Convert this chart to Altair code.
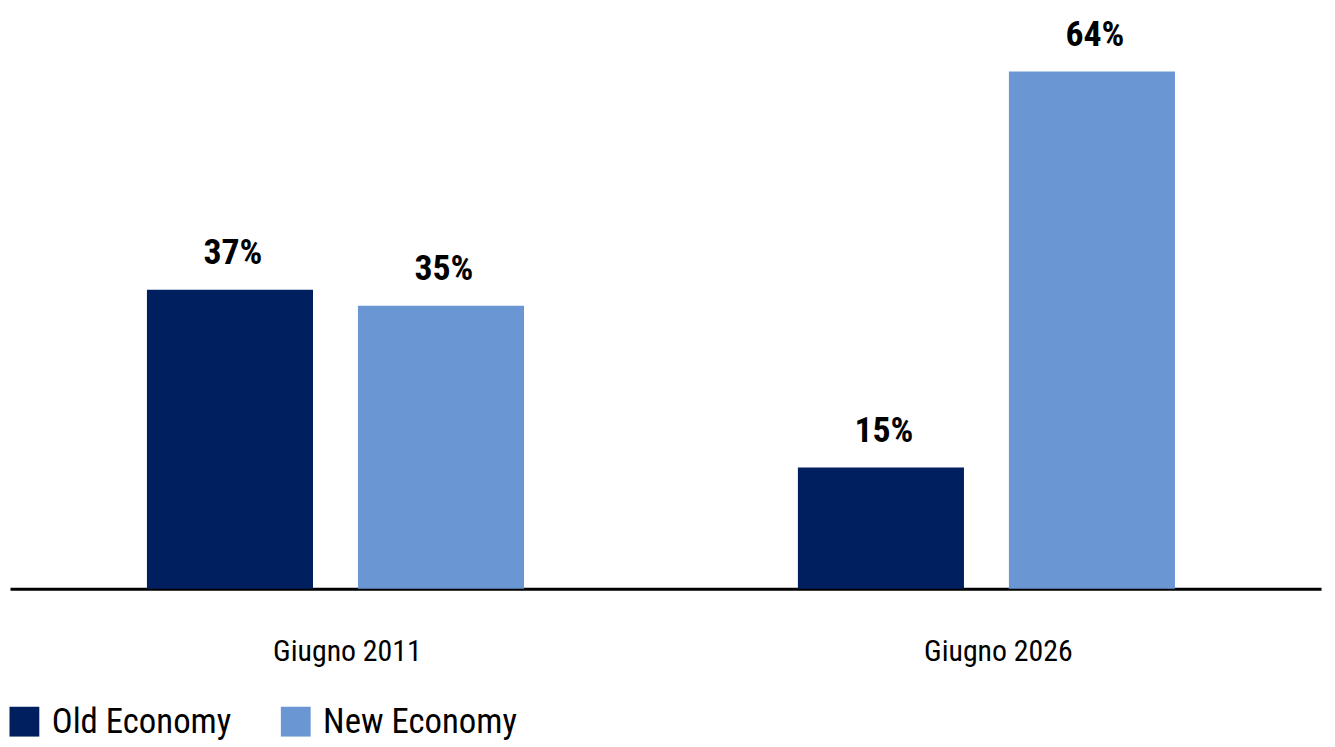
import altair as alt
import pandas as pd

groups = ["Giugno 2011", "Giugno 2026"]
series = ["Old Economy", "New Economy"]
old_values = [37, 15]
new_values = [35, 64]
colors = ["#001f5f", "#6a96d4"]

FONT = "Roboto Condensed, Liberation Sans Narrow, DejaVu Sans Condensed, sans-serif"

rows = []
for i, g in enumerate(groups):
    rows.append({"group": g, "series": series[0], "value": old_values[i], "label": f"{old_values[i]}%"})
    rows.append({"group": g, "series": series[1], "value": new_values[i], "label": f"{new_values[i]}%"})
df = pd.DataFrame(rows)

x_enc = alt.X(
    "group:N",
    sort=groups,
    scale=alt.Scale(paddingInner=0, paddingOuter=0.007, align=0),
    axis=alt.Axis(
        title=None,
        labelAngle=0,
        ticks=False,
        domainColor="#000000",
        domainWidth=3,
        labelFont=FONT,
        labelFontSize=30,
        labelColor="#000000",
        labelPadding=48,
        labelOffset=12,
        labelBaseline="top",
    ),
)
xoff_enc = alt.XOffset("series:N", sort=series, scale=alt.Scale(paddingInner=0.213, paddingOuter=0.649))
y_enc = alt.Y("value:Q", scale=alt.Scale(domain=[0, 69.6]), axis=None)

base = alt.Chart(df)

bars = base.mark_bar().encode(
    x=x_enc,
    xOffset=xoff_enc,
    y=y_enc,
    color=alt.Color(
        "series:N",
        sort=series,
        scale=alt.Scale(domain=series, range=colors),
        legend=alt.Legend(
            title=None,
            orient="none",
            legendX=-3,
            legendY=682,
            direction="horizontal",
            symbolType="square",
            symbolSize=900,
            symbolStrokeWidth=0,
            symbolOpacity=1,
            labelFont=FONT,
            labelFontSize=35,
            labelColor="#000000",
            labelOffset=10,
            labelLimit=0,
            columnPadding=47,
            padding=0,
        ),
    ),
)

text = base.mark_text(
    dy=-26, dx=3, baseline="alphabetic", fontWeight="bold", fontSize=36, font=FONT, color="#000000"
).encode(
    x=x_enc,
    xOffset=xoff_enc,
    y=y_enc,
    text=alt.Text("label:N"),
)

chart = (
    alt.layer(bars, text)
    .properties(
        width=1319,
        height=566,
        padding={"left": 2, "top": 16, "right": 6, "bottom": 156},
        autosize=alt.AutoSizeParams(type="none"),
        background="#ffffff",
    )
    .configure_view(stroke=None)
)

chart.save("out.html", embed_options={"renderer": "svg", "actions": False})
